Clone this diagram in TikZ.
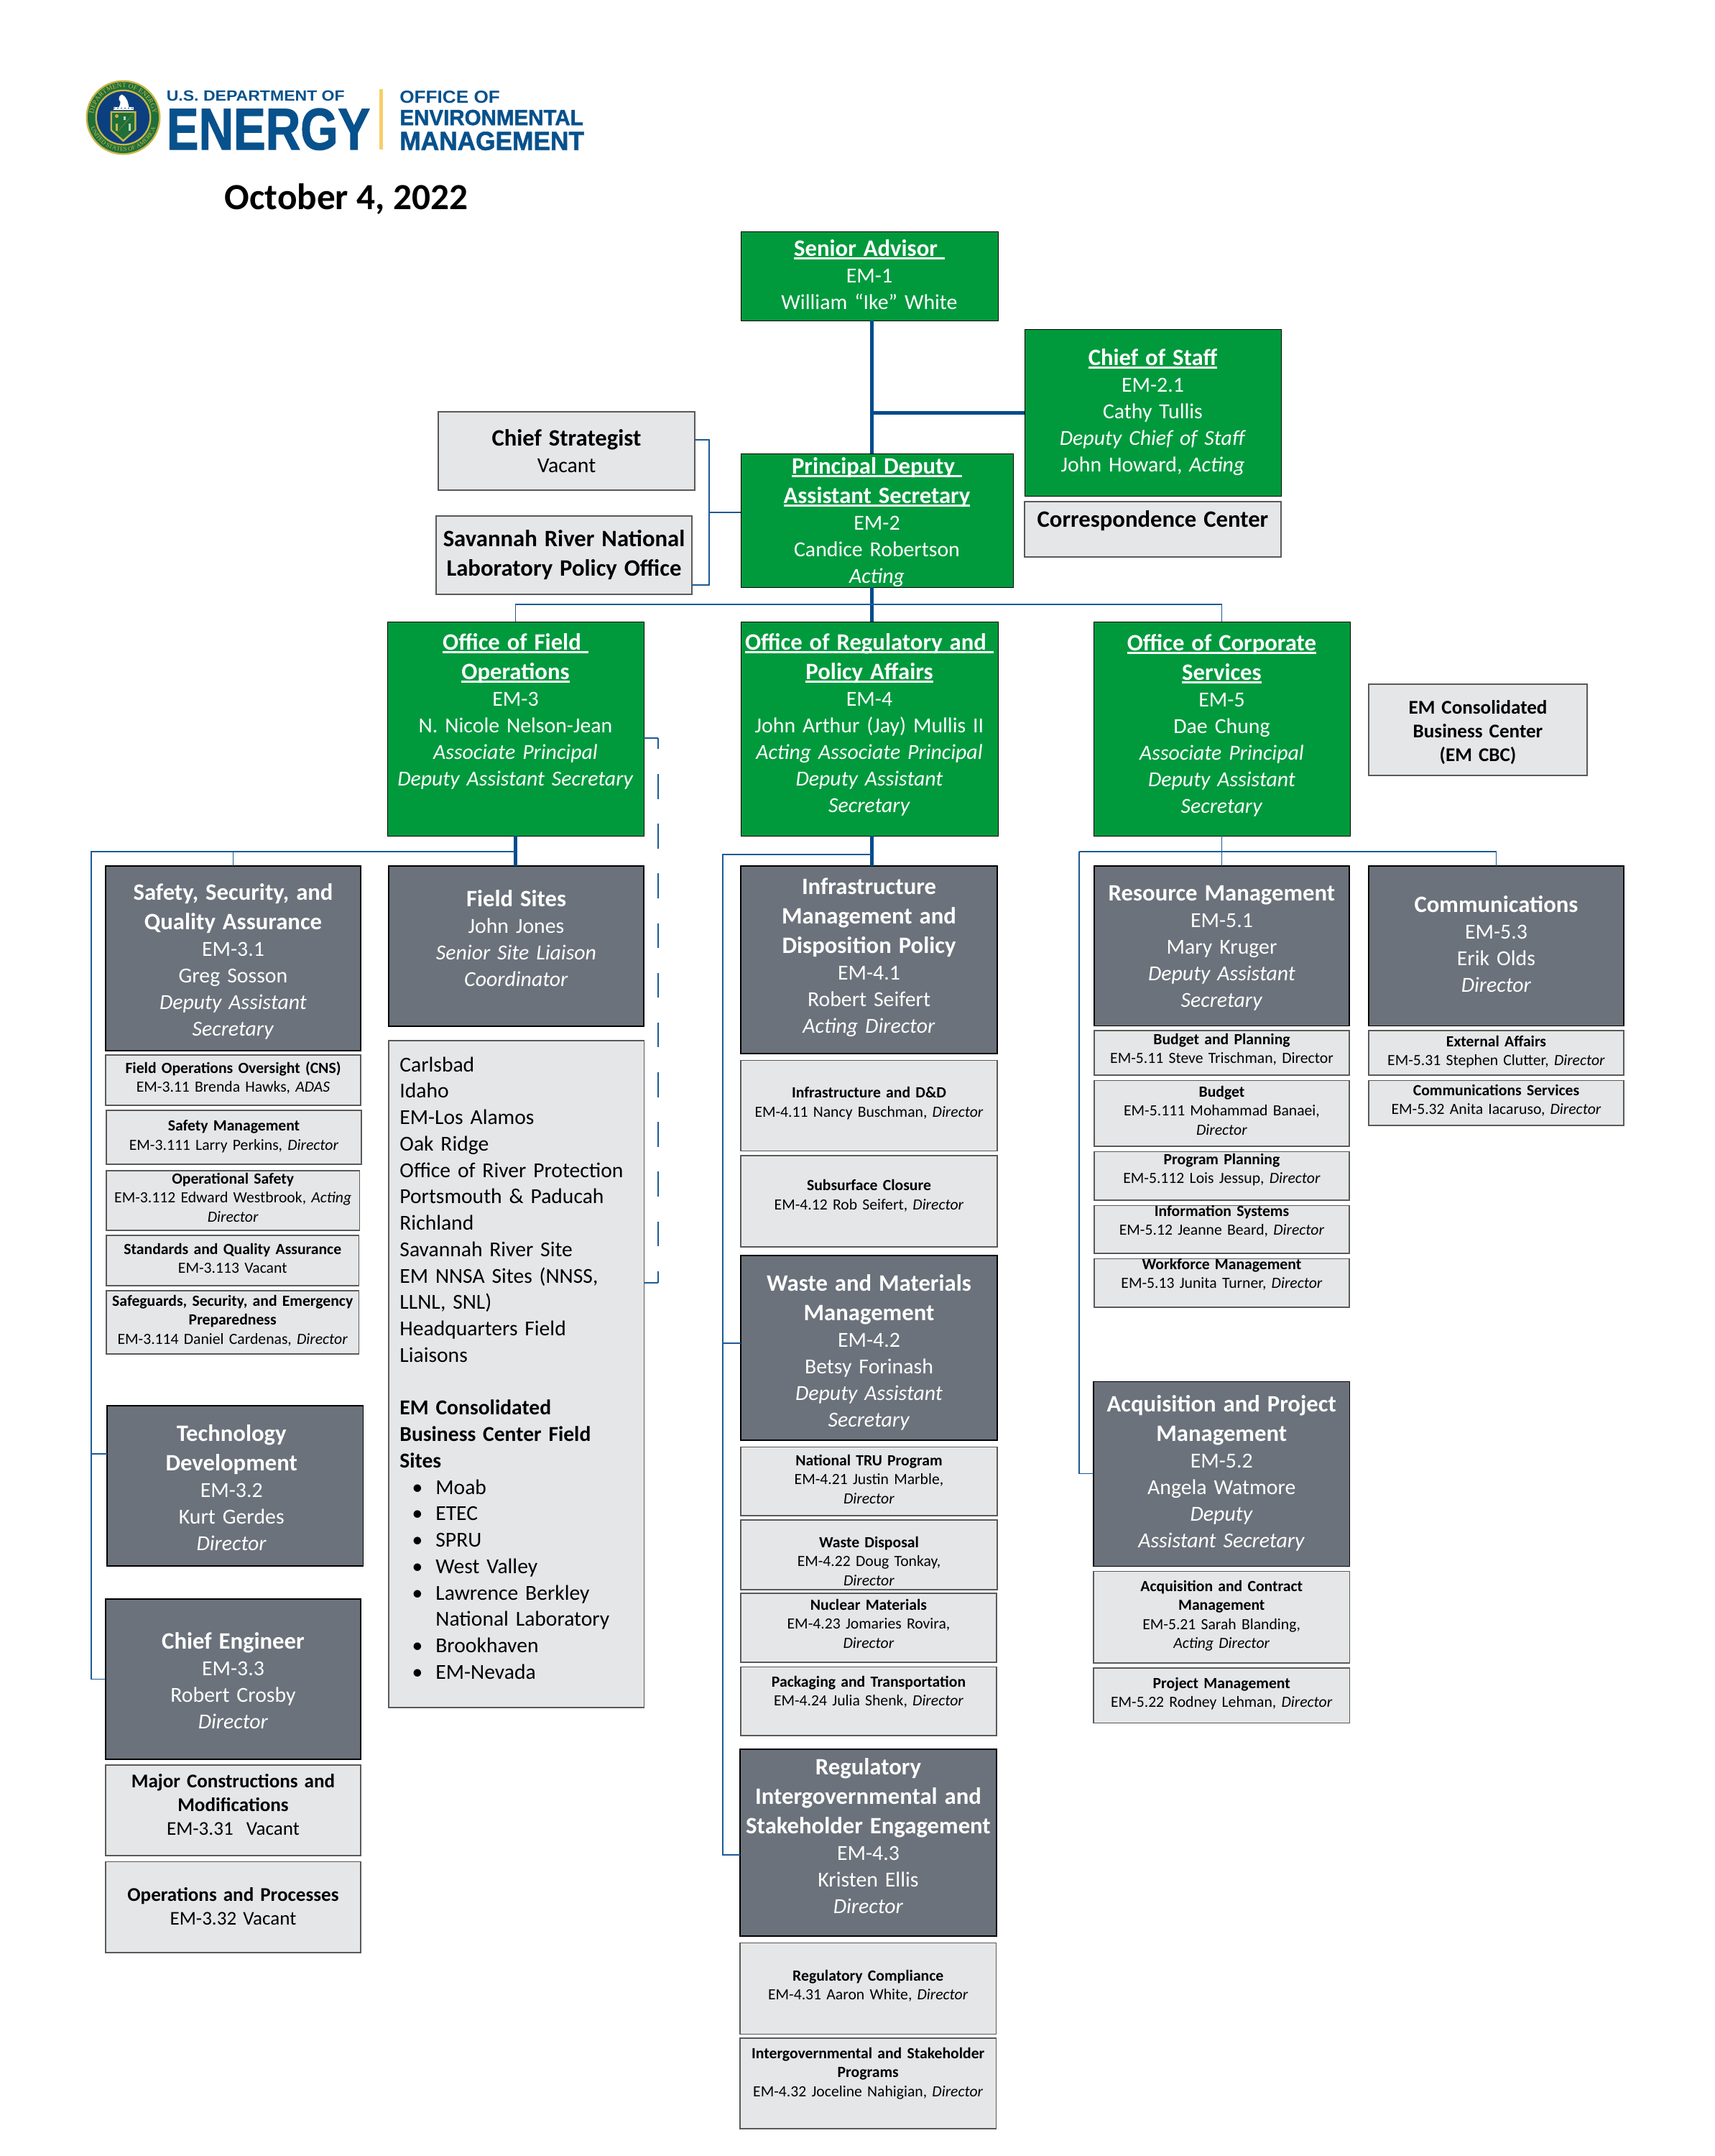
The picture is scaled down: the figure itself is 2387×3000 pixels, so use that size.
\documentclass[tikz,border=0pt]{standalone}
\usepackage{fontspec}
\usepackage{graphicx}
\setmainfont{Carlito}
\usetikzlibrary{decorations.text}
\newfontfamily\logofont{Liberation Sans}
\newfontfamily\heavylogo[BoldFont={Liberation Sans Bold},BoldFeatures={FakeBold=1.6}]{Liberation Sans}
\newfontfamily\sealfont{Liberation Serif}
\definecolor{emgreen}{HTML}{009A3D}
\definecolor{emslate}{HTML}{6B727B}
\definecolor{emlight}{HTML}{E5E6E8}
\definecolor{emblue}{HTML}{004B8D}
\definecolor{emthin}{HTML}{1C5A96}
\definecolor{emgold}{HTML}{F7CE6A}
\definecolor{emlogo}{HTML}{07518C}
\definecolor{sealgold}{HTML}{C9B648}
\definecolor{sealgreen}{HTML}{1F6F3A}
\definecolor{sealblue}{HTML}{0C3F7F}
\newcommand{\ttl}[1]{{\fontsize{7.85}{8.88}\selectfont\bfseries #1}}
\newcommand{\gul}[1]{\leavevmode\setbox0\hbox{#1}\rlap{\rule[-1.1pt]{\wd0}{0.55pt}}\box0}
\newcommand{\gttl}[1]{\ttl{\gul{#1}}}
\newcommand{\bul}{\makebox[12pt][l]{\hspace{4.1pt}\textbullet}}
\newcommand{\lsh}{\rule{2.4pt}{0pt}}
\tikzset{
  at box/.style n args={5}{at={(#1,#2)},anchor=north west,outer sep=0pt,inner sep=0pt,align=center,
    text width={(#3-#1)*0.24pt},text height={(#5-#2)*0.24pt},text depth={(#4-#5)*0.24pt}},
  bodyfont/.style={font=\fontsize{7.15}{8.88}\selectfont},
  midfont/.style={font=\fontsize{6.5}{7.92}\selectfont},
  smallfont/.style={font=\fontsize{5.2}{6.36}\selectfont},
  greenbox/.style={draw=black,line width=0.2pt,fill=emgreen,text=white,bodyfont},
  slatebox/.style={draw=black,line width=0.3pt,fill=emslate,text=white,bodyfont},
  lightbox/.style={draw=black!65,line width=0.3pt,fill=emlight,text=black,smallfont},
  midbox/.style={lightbox,midfont},
  thickline/.style={draw=emblue,line width=1.2pt},
  midline/.style={draw=emthin,line width=0.6pt},
  thinline/.style={draw=emthin,line width=0.4pt},
  logotext/.style={anchor=base west,inner sep=0pt,text=emlogo,font=\heavylogo\bfseries},
}
\begin{document}
\begin{tikzpicture}[x=0.24pt,y=-0.24pt]
\path[use as bounding box] (0,0) rectangle (2387,3000);

\begin{scope}[shift={(171.5,163.5)},yscale=-1]
\fill[sealgold] (0,0) circle (52);
\fill[sealgreen] (0,0) circle (49.5);
\fill[sealgold] (0,0) circle (39);
\fill[sealblue] (0,0) circle (36.5);
\path[postaction={decorate,decoration={text along path,text align=center,
  text={|\fontsize{2.3}{3}\sealfont\color{sealgold}|DEPARTMENT OF ENERGY}}}] (185:41.5) arc (185:-5:41.5);
\path[postaction={decorate,decoration={text along path,text align=center,
  text={|\fontsize{2.05}{3}\sealfont\color{sealgold}|UNITED STATES OF AMERICA}}}] (195:47) arc (195:345:47);
\fill[white] (-2,32) .. controls (-7,30) and (-7,24) .. (-4,22) .. controls (-4,18) and (-5,16) .. (-6,14) -- (8,14) .. controls (7,20) and (6,28) .. (-2,32);
\fill[white] (-14,14.5) rectangle (14,11);
\draw[sealblue,line width=0.2pt,dash pattern=on 0.6pt off 0.6pt] (-14,12.7) -- (14,12.7);
\fill[sealgold] (-18,9) -- (18,9) -- (18,-18) -- (0,-34) -- (-18,-18) -- cycle;
\fill[sealgreen] (-15.5,6.5) -- (15.5,6.5) -- (15.5,-17) -- (0,-30.5) -- (-15.5,-17) -- cycle;
\fill[sealgold] (15,6) -- (-9,-21) -- (4,-6) -- cycle;
\draw[sealgold,line width=0.5pt] (-9,-8) -- (-9,-18);
\fill[sealgold] (-9,2) circle (2.5);
\draw[white!70!sealgreen,line width=0.5pt] (9,-8) -- (9,-18) (2,2) -- (2,-3);
\end{scope}
\node[logotext] (usdoe) at (231,140) {\resizebox{59.5pt}{3.45pt}{\logofont U.S. DEPARTMENT OF}};
\node[logotext] (energy) at (231,208) {\resizebox{68pt}{13.7pt}{ENERGY}};
\draw[emgold,line width=1.1pt] (530.5,124) -- (530.5,208);
\node[logotext] (officeof) at (555.5,143) {\resizebox{33.5pt}{4.1pt}{\logofont OFFICE OF}};
\node[logotext] (environ) at (555.5,174) {\resizebox{61.3pt}{5.1pt}{ENVIRONMENTAL}};
\node[logotext] (emmgmt) at (555.5,208.7) {\resizebox{61.6pt}{6.1pt}{MANAGEMENT}};
\node[anchor=base,inner sep=0pt,font=\fontsize{12.3}{14}\selectfont\bfseries] (date) at (482,291) {October 4, 2022};

\node[greenbox,at box={1031}{322}{1389}{446}{356}] (sa) {\gttl{Senior Advisor~}\\EM-1\\William “Ike” White};
\node[greenbox,at box={1426}{458}{1783}{690}{508}] (cos) {\gttl{Chief of Staff}\\EM-2.1\\Cathy Tullis\\\textit{Deputy Chief of Staff}\\John Howard, \textit{Acting}};
\node[lightbox,bodyfont,at box={1426}{698}{1783}{775}{733}] (corr) {\ttl{Correspondence Center}};
\node[lightbox,bodyfont,at box={610}{573}{967}{682}{620}] (chstrat) {\ttl{Chief Strategist}\\Vacant};
\node[lightbox,bodyfont,at box={607}{718}{963}{827}{760}] (srnl) {\ttl{Savannah River National}\\[1pt]\ttl{Laboratory Policy Office}};
\node[greenbox,at box={1031}{631}{1410}{817}{659}] (pdas) {\gttl{Principal Deputy~}\\[1pt]\gttl{Assistant Secretary}\\EM-2\\Candice Robertson\\\textit{Acting}};
\node[greenbox,at box={539}{865}{896}{1163}{904}] (ofo) {\gttl{Office of Field~}\\[1pt]\gttl{Operations}\\EM-3\\N. Nicole Nelson-Jean\\\textit{Associate Principal}\\\textit{Deputy Assistant Secretary}};
\node[greenbox,at box={1031}{865}{1389}{1163}{904}] (orpa) {\gttl{Office of Regulatory and~}\\[1pt]\gttl{Policy Affairs}\\EM-4\\John Arthur (Jay) Mullis II\\\textit{Acting Associate Principal}\\\textit{Deputy Assistant}\\\textit{Secretary}};
\node[greenbox,at box={1522}{865}{1879}{1163}{905}] (ocs) {\gttl{Office of Corporate}\\[1pt]\gttl{Services}\\EM-5\\Dae Chung\\\textit{Associate Principal}\\\textit{Deputy Assistant}\\\textit{Secretary}};
\node[midbox,at box={1905}{952}{2209}{1079}{993}] (cbc) {\textbf{EM Consolidated}\\\textbf{Business Center}\\\textbf{(EM CBC)}};

\node[slatebox,at box={147}{1205}{502}{1462}{1252}] (ssq) {\ttl{Safety, Security, and}\\[1pt]\ttl{Quality Assurance}\\EM-3.1\\Greg Sosson\\\textit{Deputy Assistant}\\\textit{Secretary}};
\node[lightbox,at box={147}{1468}{502}{1538}{1493}] (foo) {\textbf{Field Operations Oversight (CNS)}\\EM-3.11 Brenda Hawks, \textit{ADAS}};
\node[lightbox,at box={148}{1545}{503}{1620}{1573.5}] (safemgmt) {\textbf{Safety Management}\\EM-3.111 Larry Perkins, \textit{Director}};
\node[lightbox,at box={148}{1629}{500.5}{1712}{1647}] (opsafe) {\textbf{Operational Safety}\\EM-3.112 Edward Westbrook, \textit{Acting}\\\textit{Director}};
\node[lightbox,at box={148}{1719}{499.5}{1789}{1745}] (stdqa) {\textbf{Standards and Quality Assurance}\\EM-3.113 Vacant};
\node[lightbox,at box={148}{1796}{499.5}{1884}{1817}] (safeg) {\textbf{Safeguards, Security, and Emergency}\\\textbf{Preparedness}\\EM-3.114 Daniel Cardenas, \textit{Director}};
\node[slatebox,at box={149}{1956}{505.5}{2179}{2005}] (techdev) {\ttl{Technology}\lsh\\[1pt]\ttl{Development}\lsh\\EM-3.2\lsh\\Kurt Gerdes\lsh\\\textit{Director}\lsh};
\node[slatebox,at box={147}{2225}{502}{2448}{2294}] (chieng) {\ttl{Chief Engineer}\\EM-3.3\\Robert Crosby\\\textit{Director}};
\node[midbox,at box={147}{2456}{502}{2582}{2487}] (majcon) {\textbf{Major Constructions and}\\\textbf{Modifications}\\EM-3.31\ \ Vacant};
\node[midbox,at box={147}{2590.5}{502}{2717}{2645.5}] (opsproc) {\textbf{Operations and Processes}\\EM-3.32 Vacant};

\node[slatebox,at box={541}{1205}{896}{1428}{1261}] (fs) {\ttl{Field Sites}\\John Jones\\\textit{Senior Site Liaison}\\\textit{Coordinator}};
\node[lightbox,at box={541}{1448}{897}{2376}{1491},text width=78pt,align=left,inner xsep=3.7pt,font=\fontsize{7.1}{8.82}\selectfont] (fieldlist) {Carlsbad\\Idaho\\EM-Los Alamos\\Oak Ridge\\Office of River Protection\\Portsmouth \& Paducah\\Richland\\Savannah River Site\\EM NNSA Sites (NNSS,\\LLNL, SNL)\\Headquarters Field\\Liaisons\\~\\\textbf{EM Consolidated}\\\textbf{Business Center Field}\\\textbf{Sites}\\\bul Moab\\\bul ETEC\\\bul SPRU\\\bul West Valley\\\bul Lawrence Berkley\\\makebox[12pt]{}National Laboratory\\\bul Brookhaven\\\bul EM-Nevada};

\node[slatebox,at box={1031}{1205}{1388}{1466}{1244}] (imd) {\ttl{Infrastructure}\\[1pt]\ttl{Management and}\\[1pt]\ttl{Disposition Policy}\\EM-4.1\\Robert Seifert\\\textit{Acting Director}};
\node[lightbox,at box={1031}{1475.5}{1388}{1601.5}{1527.5}] (infradd) {\textbf{Infrastructure and D\&D}\\EM-4.11 Nancy Buschman, \textit{Director}};
\node[lightbox,at box={1031}{1608}{1388}{1735}{1656.5}] (subsurf) {\textbf{Subsurface Closure}\\EM-4.12 Rob Seifert, \textit{Director}};
\node[slatebox,at box={1031}{1747}{1388}{2004}{1796.5}] (wmm) {\ttl{Waste and Materials}\\[1pt]\ttl{Management}\\EM-4.2\\Betsy Forinash\\\textit{Deputy Assistant}\\\textit{Secretary}};
\node[lightbox,at box={1031}{2013.5}{1388}{2109}{2039}] (tru) {\textbf{National TRU Program}\\EM-4.21 Justin Marble,\\\textit{Director}};
\node[lightbox,at box={1031}{2115}{1388}{2212}{2153}] (wdisp) {\textbf{Waste Disposal}\\EM-4.22 Doug Tonkay,\\\textit{Director}};
\node[lightbox,at box={1031}{2217}{1387}{2313}{2240}] (nucmat) {\textbf{Nuclear Materials}\\EM-4.23 Jomaries Rovira,\\\textit{Director}};
\node[lightbox,at box={1031}{2319.5}{1387}{2415}{2347}] (packtr) {\textbf{Packaging and Transportation}\\EM-4.24 Julia Shenk, \textit{Director}};
\node[slatebox,at box={1030}{2434}{1387}{2694}{2469}] (rise) {\ttl{Regulatory}\\[1pt]\ttl{Intergovernmental and}\\[1pt]\ttl{Stakeholder Engagement}\\EM-4.3\\Kristen Ellis\\\textit{Director}};
\node[lightbox,at box={1030}{2703.5}{1386.5}{2830.5}{2756}] (regcomp) {\textbf{Regulatory Compliance}\\EM-4.31 Aaron White, \textit{Director}};
\node[lightbox,at box={1030}{2836}{1386.5}{2962}{2864}] (igsp) {\textbf{Intergovernmental and Stakeholder}\\\textbf{Programs}\\EM-4.32 Joceline Nahigian, \textit{Director}};

\node[slatebox,at box={1523}{1205}{1878}{1427.5}{1253}] (resmgmt) {\ttl{Resource Management}\\EM-5.1\\Mary Kruger\\\textit{Deputy Assistant}\\\textit{Secretary}};
\node[lightbox,at box={1523}{1434}{1878}{1496}{1453}] (budplan) {\textbf{Budget and Planning}\\EM-5.11 Steve Trischman, Director};
\node[lightbox,at box={1523}{1503.5}{1878}{1595}{1526}] (budget) {\textbf{Budget}\\EM-5.111 Mohammad Banaei,\\\textit{Director}};
\node[lightbox,at box={1523}{1602.5}{1878}{1670}{1620}] (progplan) {\textbf{Program Planning}\\EM-5.112 Lois Jessup, \textit{Director}};
\node[lightbox,at box={1523}{1677.5}{1878}{1744}{1692}] (infosys) {\textbf{Information Systems}\\EM-5.12 Jeanne Beard, \textit{Director}};
\node[lightbox,at box={1523}{1751.5}{1878}{1819}{1766}] (workf) {\textbf{Workforce Management}\\EM-5.13 Junita Turner, \textit{Director}};
\node[slatebox,at box={1905}{1205}{2260}{1427.5}{1269}] (comm) {\ttl{Communications}\\EM-5.3\\Erik Olds\\\textit{Director}};
\node[lightbox,at box={1905}{1434}{2260}{1496}{1456}] (extaff) {\textbf{External Affairs}\\EM-5.31 Stephen Clutter, \textit{Director}};
\node[lightbox,at box={1905}{1503.5}{2260}{1566}{1524}] (commsvc) {\textbf{Communications Services}\\EM-5.32 Anita Iacaruso, \textit{Director}};
\node[slatebox,at box={1522}{1922.5}{1878.5}{2179.5}{1964}] (acqpm) {\ttl{Acquisition and Project}\\[1pt]\ttl{Management}\\EM-5.2\\Angela Watmore\\\textit{Deputy}\\\textit{Assistant Secretary}};
\node[lightbox,at box={1522}{2186.5}{1878.5}{2314}{2214}] (acqcon) {\textbf{Acquisition and Contract}\\\textbf{Management}\\EM-5.21 Sarah Blanding,\\\textit{Acting Director}};
\node[lightbox,at box={1522}{2321}{1878.5}{2397.5}{2349}] (projm) {\textbf{Project Management}\\EM-5.22 Rodney Lehman, \textit{Director}};

\coordinate (trunk) at (1213,574);
\coordinate (rep) at (1213,841);
\coordinate (brkt) at (987,612);
\coordinate (brkm) at (987,713);
\coordinate (brkb) at (987,814);
\coordinate (fstem) at (717,1185);
\coordinate (fleft) at (127,1185);
\coordinate (techj) at (127,2023);
\coordinate (dasht) at (916,1027);
\coordinate (dashb) at (916,1785);
\coordinate (rstem) at (1213,1189);
\coordinate (rleft) at (1006,1189);
\coordinate (wastej) at (1006,1869);
\coordinate (risej) at (1006,2581);
\coordinate (cstem) at (1700.5,1185);
\coordinate (cleft) at (1502,1185);
\coordinate (acqj) at (1502,2050.5);

\draw[thickline] (sa.south -| trunk) -- (pdas.north -| trunk);
\draw[thickline] (trunk) -- (trunk -| cos.west);
\draw[midline] (brkt -| chstrat.east) -- (brkt) -- (brkb) -- (brkb -| srnl.east);
\draw[thinline] (brkm) -- (brkm -| pdas.west);
\draw[thickline] (pdas.south -| rep) -- (orpa.north -| rep);
\draw[thinline] (ofo.north) |- (rep);
\draw[thinline] (ocs.north) |- (rep);
\draw[thinline] (dasht -| ofo.east) -- (dasht);
\draw[thinline,dash pattern=on 8.3pt off 8.3pt,dash phase=4.6pt] (dasht) -- (dashb);
\draw[thinline] (dashb) -- (dashb -| fieldlist.east);
\draw[thickline] (ofo.south -| fstem) -- (fs.north -| fstem);
\draw[thinline] (fstem) -- (fleft) |- (chieng.west);
\draw[thinline] (ssq.north) |- (fstem);
\draw[thinline] (techj) -- (techj -| techdev.west);
\draw[thickline] (orpa.south -| rstem) -- (imd.north -| rstem);
\draw[thinline] (rstem) -- (rleft) -- (risej) -- (risej -| rise.west);
\draw[thinline] (wastej) -- (wastej -| wmm.west);
\draw[thinline] (ocs.south) -- (resmgmt.north);
\draw[thinline] (cleft) -- (acqj) -- (acqj -| acqpm.west);
\draw[thinline] (cleft) -- (cstem) -| (comm.north);
\end{tikzpicture}
\end{document}
